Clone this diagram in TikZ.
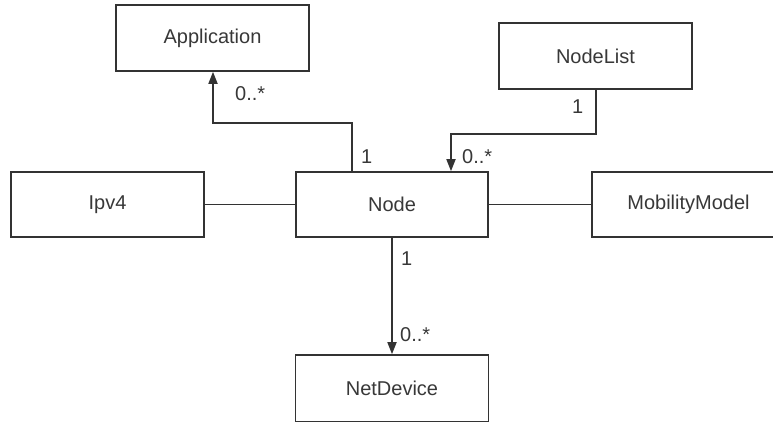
\documentclass[tikz,border=0pt]{standalone}
\usepackage{fontspec}
\setmainfont{Liberation Sans}
\usetikzlibrary{arrows.meta}
\definecolor{linec}{HTML}{333333}
\definecolor{textc}{HTML}{383838}
\begin{document}
\begin{tikzpicture}[x=1pt,y=-1pt,
  cls/.style={draw=linec, line width=1.7pt, fill=white, minimum width=193pt, minimum height=66pt, inner sep=0pt, text=textc, font=\fontsize{20}{24}\selectfont},
  conn/.style={draw=linec, line width=1.7pt},
  arr/.style={conn, -{Triangle[width=9pt,length=12pt]}},
  lbl/.style={text=textc, font=\fontsize{20}{24}\selectfont, inner sep=0pt, anchor=base west}]
\useasboundingbox (0,0) rectangle (773,421);
\clip (0,0) rectangle (773,421);
\fill[white] (0,0) rectangle (773,421);
\node[cls, minimum height=66pt] (app) at (212.5,38) {Application};
\node[cls] (nl) at (595.5,56) {NodeList};
\node[cls, minimum height=65pt] (ipv4) at (107.5,204.5) {Ipv4};
\node[cls, minimum width=192pt, minimum height=65pt] (node) at (392,204.5) {Node};
\node[cls, minimum height=65pt] (mob) at (688.5,204.5) {MobilityModel};
\node[cls, minimum height=67pt] (nd) at (392,388.5) {NetDevice};
\coordinate (b1) at (352,123);
\coordinate (b2) at (213,123);
\draw[arr] (node.north -| b1) -- (b1) -- (b2) -- (app.south -| b2);
\coordinate (c1) at (596,134);
\coordinate (c2) at (451,134);
\draw[arr] (nl.south -| c1) -- (c1) -- (c2) -- (node.north -| c2);
\draw[conn] (ipv4.east) -- (node.west);
\draw[conn] (node.east) -- (mob.west);
\draw[arr] (node.south) -- (nd.north);
\node[lbl] (l1) at (235,100) {0..*};
\node[lbl] (l2) at (361,163) {1};
\node[lbl] (l3) at (572,113) {1};
\node[lbl] (l4) at (462,163) {0..*};
\node[lbl] (l5) at (401,265) {1};
\node[lbl] (l6) at (400,341) {0..*};
\end{tikzpicture}
\end{document}
